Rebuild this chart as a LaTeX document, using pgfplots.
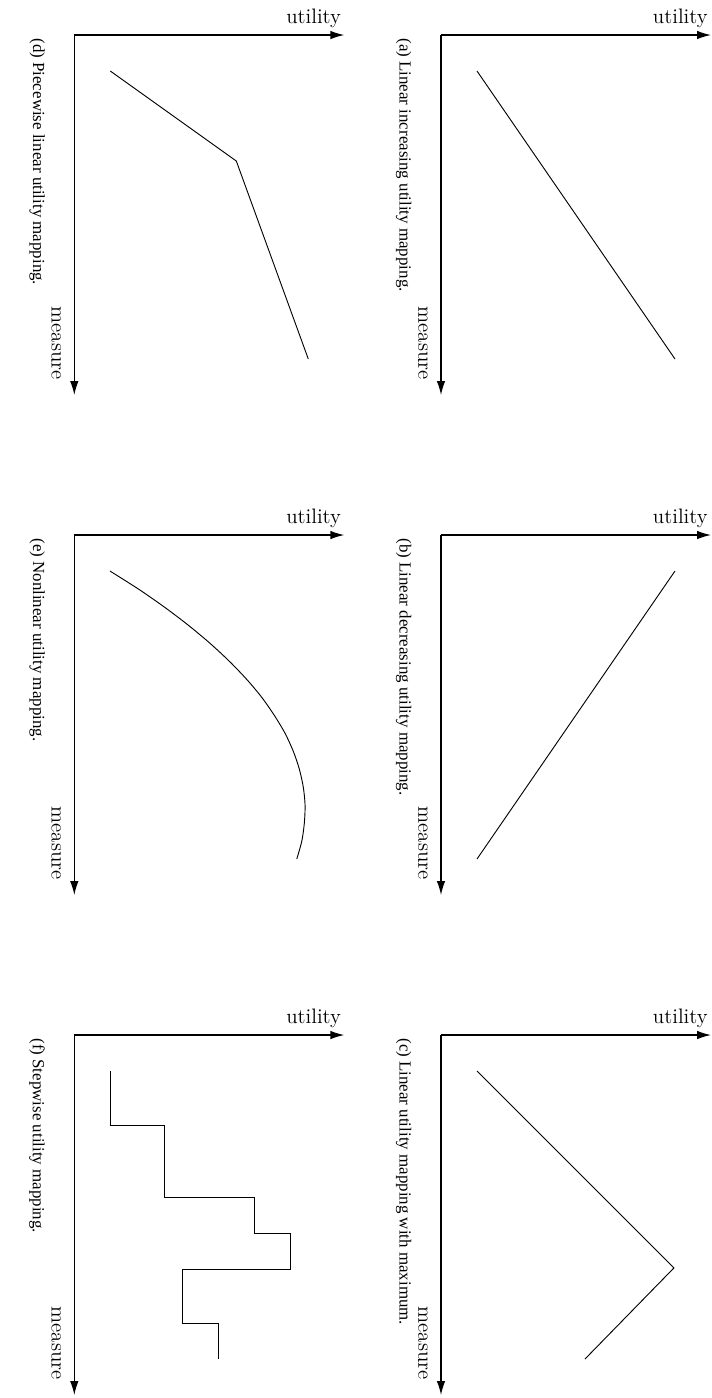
\documentclass[border=0pt]{standalone}
\usepackage{fontspec}
\usepackage{pgfplots}
\pgfplotsset{compat=1.18}
\usetikzlibrary{arrows.meta}
\newfontfamily\timesfont{Liberation Serif}
\newcommand\labfont{\fontsize{13.6}{16}\selectfont}
\newcommand\capfont{\timesfont\fontsize{11}{13}\selectfont}
\pgfplotsset{
  util/.style={
    scale only axis, width=175.5pt, height=234pt,
    xmin=0, xmax=7.5, ymin=0, ymax=10, y dir=reverse,
    axis x line=top, axis y line=left, xtick=\empty, ytick=\empty,
    axis line style={line width=0.8pt, -{Latex[length=9pt,width=5.5pt]}},
    clip=false, anchor=north west,
  },
  curve/.style={black, line width=0.6pt, mark=none},
}
\newcommand\decor[1]{%
  \node[anchor=base east, inner sep=0, font=\labfont] at ([xshift=-2pt,yshift=7.8pt]axis cs:7.5,0) {utility};
  \node[rotate=-90, anchor=north east, inner sep=0, font=\labfont] at ([xshift=-8.45pt,yshift=9.75pt]axis cs:0,10) {measure};
  \node[rotate=-90, anchor=north west, inner sep=0, font=\capfont] at ([xshift=-19pt,yshift=-2pt]axis cs:0,0) {#1};
}
\begin{document}
\begin{tikzpicture}
\useasboundingbox (0,0) rectangle (462.8pt,-908.7pt);
% (a)
\begin{axis}[util, at={(286.65pt,-22.75pt)}]
\addplot[curve] coordinates {(1,1) (6.5,9)};
\decor{(a) Linear increasing utility mapping.}
\end{axis}
% (b)
\begin{axis}[util, at={(286.65pt,-347.75pt)}]
\addplot[curve] coordinates {(6.5,1) (1,9)};
\decor{(b) Linear decreasing utility mapping.}
\end{axis}
% (c)
\begin{axis}[util, at={(286.65pt,-672.75pt)}]
\addplot[curve] coordinates {(1,1) (6.47,6.47) (4,9)};
\decor{(c) Linear utility mapping with maximum.}
\end{axis}
% (d)
\begin{axis}[util, at={(48.3pt,-22.75pt)}]
\addplot[curve] coordinates {(1,1) (4.5,3.5) (6.5,9)};
\decor{(d) Piecewise linear utility mapping.}
\end{axis}
% (e)
\begin{axis}[util, at={(48.3pt,-347.75pt)}]
\addplot[curve, smooth] coordinates {(0.99,1) (1.78,1.5) (2.50,2) (3.16,2.5) (3.76,3) (4.30,3.5) (4.78,4) (5.20,4.5) (5.55,5) (5.85,5.5) (6.08,6) (6.25,6.5) (6.36,7) (6.41,7.5) (6.39,8) (6.32,8.5) (6.18,9)};
\decor{(e) Nonlinear utility mapping.}
\end{axis}
% (f)
\begin{axis}[util, at={(48.3pt,-672.75pt)}]
\addplot[curve] coordinates {(1,1) (1,2.5) (2.5,2.5) (2.5,4.5) (5,4.5) (5,5.5) (6,5.5) (6,6.5) (3,6.5) (3,8) (4,8) (4,9)};
\decor{(f) Stepwise utility mapping.}
\end{axis}
\end{tikzpicture}
\end{document}
